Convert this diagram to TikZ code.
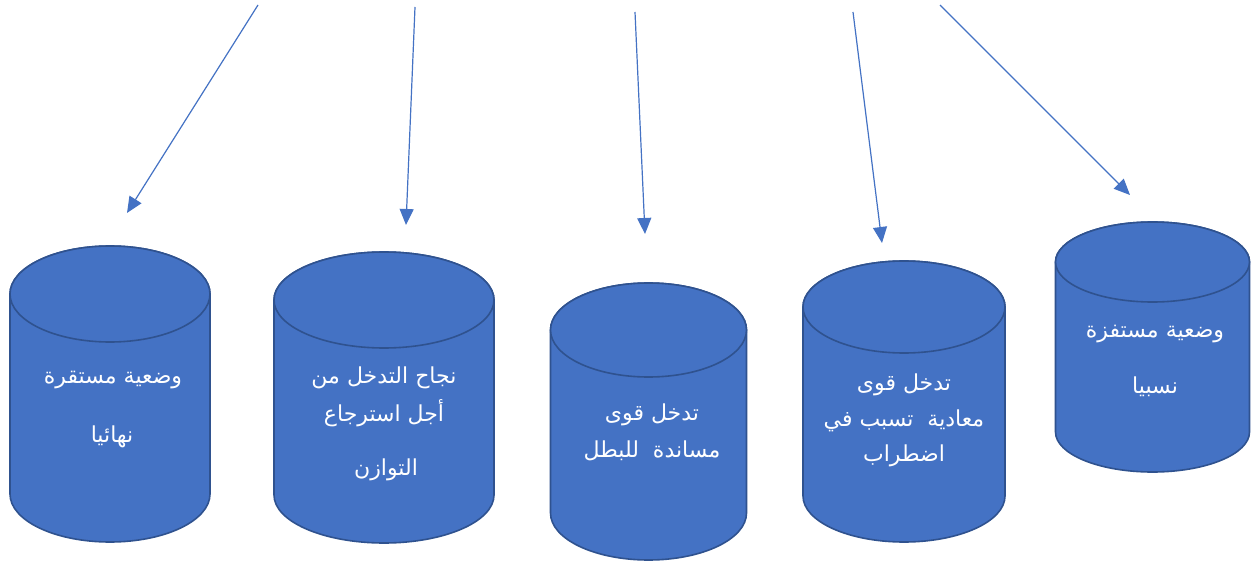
\documentclass[tikz,border=0pt]{standalone}
\usepackage{fontspec}
\newfontfamily\arabicfont[Script=Arabic]{DejaVu Sans}
\TeXXeTstate=1
\usetikzlibrary{arrows.meta}

\definecolor{drumblue}{HTML}{4472C4}
\definecolor{drumedge}{HTML}{2F528F}

\tikzset{
  drumbody/.style={fill=drumblue, draw=drumedge, line width=1.6pt, line join=round},
  link/.style={draw=drumblue, line width=1.2pt, -{Triangle[length=16pt,width=14pt]}},
  label/.style={text=white, font=\arabicfont\fontsize{22}{26}\selectfont, inner sep=0pt, anchor=center}
}

% #1 name, #2 centre x, #3 half width, #4 top ellipse centre y, #5 ellipse half height, #6 bottom ellipse centre y
\newcommand\drum[6]{%
  \path[drumbody] (#2-#3,#4) -- (#2-#3,#6)
    arc[start angle=180, end angle=360, x radius=#3pt, y radius=#5pt]
    -- (#2+#3,#4)
    arc[start angle=0, end angle=180, x radius=#3pt, y radius=#5pt] -- cycle;
  \path[drumbody] (#2,#4) ellipse[x radius=#3pt, y radius=#5pt];
  \coordinate (#1) at (#2,#4+#5);
}

\begin{document}
\begin{tikzpicture}[x=1pt, y=1pt]
  \useasboundingbox[fill=white] (0,0) rectangle (1256,-567);

  % the five drums
  \drum{d1}{110}{100}{-294}{48}{-494}
  \drum{d2}{384}{110}{-300}{48}{-495}
  \drum{d3}{648.5}{98}{-330}{47}{-513}
  \drum{d4}{904}{101}{-307}{46}{-496}
  \drum{d5}{1152.5}{97}{-262}{40}{-432}

  % captions
  \node[label] (t1a) at (113,-380) {\beginR وضعية مستقرة\endR};
  \node[label] (t1b) at (112,-437) {\beginR نهائيا\endR};

  \node[label] (t2a) at (384,-378) {\beginR نجاح التدخل من\endR};
  \node[label] (t2b) at (384,-413) {\beginR أجل استرجاع\endR};
  \node[label] (t2c) at (386,-470) {\beginR التوازن\endR};

  \node[label] (t3a) at (652,-415) {\beginR تدخل قوى\endR};
  \node[label] (t3b) at (652,-451) {\beginR مساندة\ \ للبطل\endR};

  \node[label] (t4a) at (904,-385) {\beginR تدخل قوى\endR};
  \node[label] (t4b) at (904,-421) {\beginR معادية\ \ تسبب في\endR};
  \node[label] (t4c) at (904,-456) {\beginR اضطراب\endR};

  \node[label] (t5a) at (1155,-334) {\beginR وضعية مستفزة\endR};
  \node[label] (t5b) at (1155,-387) {\beginR نسبيا\endR};

  % arrows coming down from above
  \coordinate (s1) at (258,-5);   \coordinate (e1) at (127,-213);
  \coordinate (s2) at (415,-7);   \coordinate (e2) at (406,-225);
  \coordinate (s3) at (635,-12);  \coordinate (e3) at (645,-234);
  \coordinate (s4) at (853,-12);  \coordinate (e4) at (882,-243);
  \coordinate (s5) at (940,-5);   \coordinate (e5) at (1130,-195);
  \draw[link] (s1) -- (e1);
  \draw[link] (s2) -- (e2);
  \draw[link] (s3) -- (e3);
  \draw[link] (s4) -- (e4);
  \draw[link] (s5) -- (e5);
\end{tikzpicture}
\end{document}
